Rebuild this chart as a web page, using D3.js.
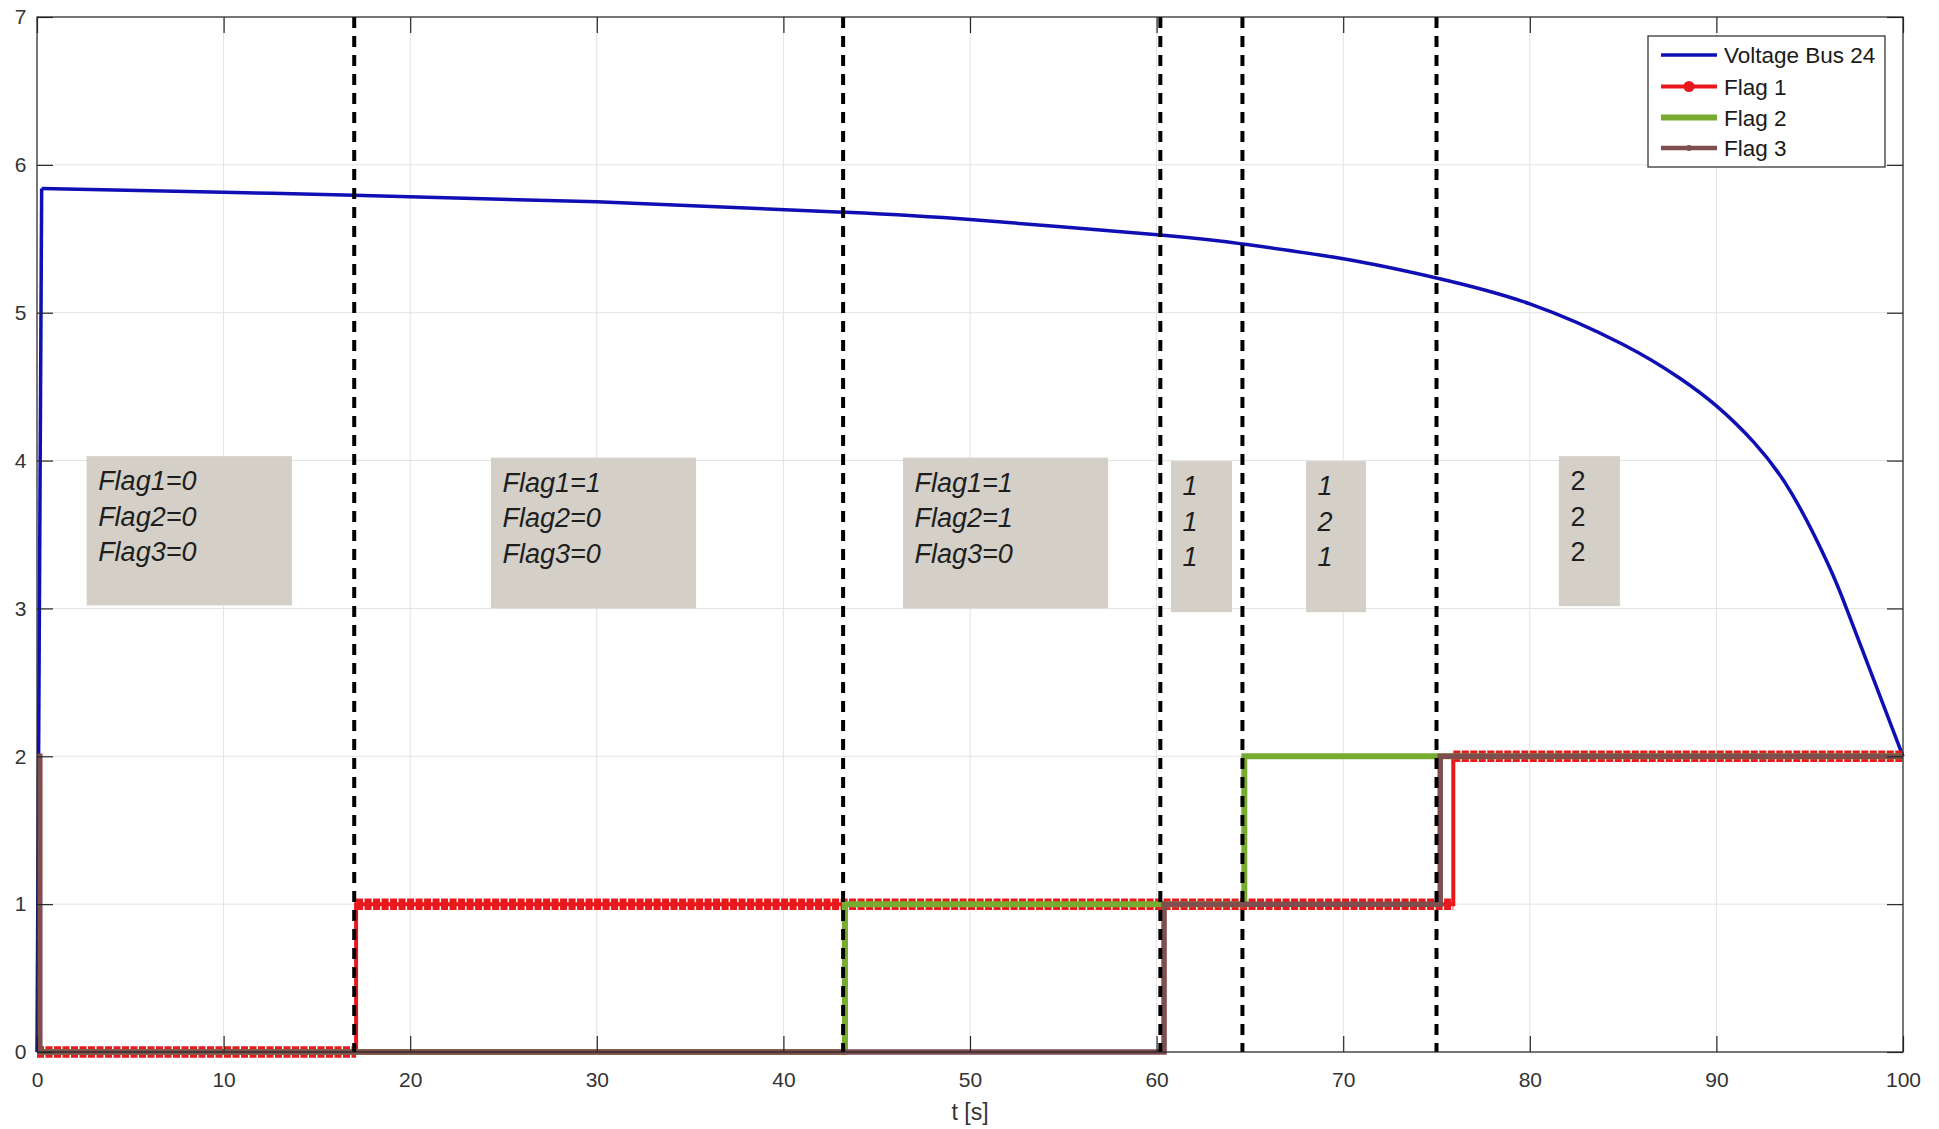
<!DOCTYPE html>
<html><head><meta charset="utf-8">
<script src="https://cdn.jsdelivr.net/npm/d3@7"></script>
<style>
body{margin:0;background:#fff}
svg{display:block}
text{font-family:"Liberation Sans",Arial,Helvetica,sans-serif}
</style>
</head><body>
<svg id="c" width="1939" height="1129"></svg>
<script>
// ---------- data ----------
const voltageT = [0, 0.25, 10, 17, 30, 43.2, 50, 60.2, 64.6, 70, 75, 80, 85, 88, 90, 92, 94, 96, 97, 98, 100];
const voltageV = [0, 5.84, 5.815, 5.795, 5.75, 5.68, 5.63, 5.525, 5.465, 5.365, 5.235, 5.06, 4.785, 4.56, 4.37, 4.125, 3.785, 3.295, 2.99, 2.66, 2.0];

const flag1T = [0, 17.1, 75.9, 100];
const flag1V = [0, 1, 2, 2];
const flag2T = [0, 43.3, 64.7, 100];
const flag2V = [0, 1, 2, 2];
const flag3T = [0, 0.15, 60.4, 75.2, 100];
const flag3V = [2, 0, 1, 2, 2];

const switchTimes = [17.0, 43.2, 60.2, 64.6, 75.0];

const xTicks = [0, 10, 20, 30, 40, 50, 60, 70, 80, 90, 100];
const yTicks = [0, 1, 2, 3, 4, 5, 6, 7];
const xLabel = "t [s]";

const seriesNames = ["Voltage Bus 24", "Flag 1", "Flag 2", "Flag 3"];

// state annotation boxes (anchored in data units)
const boxT0 = [2.66, 24.33, 46.41, 60.77, 68.01, 81.56];
const boxT1 = [13.66, 35.32, 57.40, 64.04, 71.22, 84.83];
const boxVTop = [4.03, 4.02, 4.02, 3.996, 3.996, 4.03];
const boxVBot = [3.02, 3.00, 3.00, 2.975, 2.975, 3.016];
const boxLines = [
  ["Flag1=0", "Flag2=0", "Flag3=0"],
  ["Flag1=1", "Flag2=0", "Flag3=0"],
  ["Flag1=1", "Flag2=1", "Flag3=0"],
  ["1", "1", "1"],
  ["1", "2", "1"],
  ["2", "2", "2"]
];
const boxItalic = [true, true, true, true, true, false];

// ---------- layout ----------
const L = 37, T = 17, R = 1903, B = 1052;
const svg = d3.select("#c");
const x = d3.scaleLinear().domain([0, 100]).range([L, R]);
const y = d3.scaleLinear().domain([0, 7]).range([B, T]);

const cBlue = "#0f0fb4", cRed = "#e8191c", cGreen = "#77ac30", cBrown = "#7f4f50";
const axisCol = "#262626";

// grid
const grid = svg.append("g");
grid.selectAll(".gx").data(xTicks).join("line")
  .attr("x1", d => x(d)).attr("x2", d => x(d)).attr("y1", T).attr("y2", B)
  .attr("stroke", "#e2e2e2").attr("stroke-width", 1);
grid.selectAll(".gy").data(yTicks).join("line")
  .attr("x1", L).attr("x2", R).attr("y1", d => y(d)).attr("y2", d => y(d))
  .attr("stroke", "#e2e2e2").attr("stroke-width", 1);

// annotation boxes
const boxes = svg.append("g");
boxLines.forEach((lines, i) => {
  const bx = x(boxT0[i]), by = y(boxVTop[i]);
  boxes.append("rect")
    .attr("x", bx).attr("y", by)
    .attr("width", x(boxT1[i]) - bx).attr("height", y(boxVBot[i]) - by)
    .attr("fill", "#d4d0c8");
  lines.forEach((s, j) => {
    boxes.append("text")
      .attr("x", bx + 11.5).attr("y", by + 34 + j * 35.5)
      .attr("font-size", 27)
      .attr("font-style", boxItalic[i] ? "italic" : "normal")
      .attr("fill", "#1e1e1e")
      .text(s);
  });
});

// voltage curve: initial rise (linear) + smooth decay (natural spline)
const vData = voltageT.map((t, i) => [t, voltageV[i]]);
svg.append("path")
  .datum(vData.slice(0, 2))
  .attr("d", d3.line().x(d => x(d[0])).y(d => y(d[1])))
  .attr("fill", "none").attr("stroke", cBlue).attr("stroke-width", 3.5);
svg.append("path")
  .datum(vData.slice(1))
  .attr("d", d3.line().x(d => x(d[0])).y(d => y(d[1])).curve(d3.curveNatural))
  .attr("fill", "none").attr("stroke", cBlue).attr("stroke-width", 3.5);

const stepLine = d3.line().x(d => x(d[0])).y(d => y(d[1])).curve(d3.curveStepAfter);
function runs(ts, vs) {
  const r = [];
  for (let i = 0; i < ts.length - 1; i++) r.push([[ts[i], vs[i]], [ts[i + 1], vs[i]]]);
  return r;
}

// Flag 1 (red with dense markers)
const f1 = flag1T.map((t, i) => [t, flag1V[i]]);
svg.append("g").selectAll("path").data(runs(flag1T, flag1V)).join("path")
  .attr("d", d => d3.line().x(p => x(p[0])).y(p => y(p[1]))(d))
  .attr("stroke", cRed).attr("stroke-width", 11.5).attr("stroke-dasharray", "7 1.5")
  .attr("fill", "none");
svg.append("path").datum(f1).attr("d", stepLine)
  .attr("fill", "none").attr("stroke", cRed).attr("stroke-width", 4);

// Flag 2 (green)
const f2 = flag2T.map((t, i) => [t, flag2V[i]]);
svg.append("path").datum(f2).attr("d", stepLine)
  .attr("fill", "none").attr("stroke", cGreen).attr("stroke-width", 6);

// Flag 3 (brown)
const f3 = flag3T.map((t, i) => [t, flag3V[i]]);
svg.append("path").datum(f3).attr("d", stepLine)
  .attr("fill", "none").attr("stroke", cBrown).attr("stroke-width", 5.5);

// switching instants
svg.append("g").selectAll("line").data(switchTimes).join("line")
  .attr("x1", d => x(d)).attr("x2", d => x(d)).attr("y1", T).attr("y2", B)
  .attr("stroke", "#000").attr("stroke-width", 4).attr("stroke-dasharray", "11 8");

// axes
const ax = svg.append("g").attr("color", axisCol);
ax.append("g").attr("transform", `translate(0,${B})`)
  .call(d3.axisBottom(x).tickValues(xTicks).tickSize(-16).tickPadding(20).tickFormat(d3.format("d")));
ax.append("g").attr("transform", `translate(${L},0)`)
  .call(d3.axisLeft(y).tickValues(yTicks).tickSize(-16).tickPadding(10.5).tickFormat(d3.format("d")));
ax.append("g").attr("transform", `translate(0,${T})`)
  .call(d3.axisTop(x).tickValues(xTicks).tickSize(-16).tickFormat(""));
ax.append("g").attr("transform", `translate(${R},0)`)
  .call(d3.axisRight(y).tickValues(yTicks).tickSize(-16).tickFormat(""));
ax.selectAll(".domain").remove();
ax.selectAll("line").attr("stroke-width", 1.2);
ax.selectAll("text").attr("font-size", 21).attr("fill", "#333")
  .attr("font-family", '"Liberation Sans",Arial,sans-serif');
svg.append("rect").attr("x", L).attr("y", T).attr("width", R - L).attr("height", B - T)
  .attr("fill", "none").attr("stroke", axisCol).attr("stroke-width", 1.2);

svg.append("text").attr("x", (L + R) / 2).attr("y", 1120).attr("text-anchor", "middle")
  .attr("font-size", 23).attr("fill", "#333").text(xLabel);

// legend
const lg = svg.append("g");
lg.append("rect").attr("x", 1648).attr("y", 36).attr("width", 237).attr("height", 131)
  .attr("fill", "#fff").attr("stroke", axisCol).attr("stroke-width", 1.2);
const lgCols = [cBlue, cRed, cGreen, cBrown];
const lgW = [3.5, 4, 6, 4.5];
const lgMark = [0, 5.5, 0, 3];
const lgY = [55, 86.5, 117.5, 148];
seriesNames.forEach((n, i) => {
  lg.append("line").attr("x1", 1661).attr("x2", 1717).attr("y1", lgY[i]).attr("y2", lgY[i])
    .attr("stroke", lgCols[i]).attr("stroke-width", lgW[i]);
  if (lgMark[i]) lg.append("circle").attr("cx", 1689).attr("cy", lgY[i]).attr("r", lgMark[i]).attr("fill", lgCols[i]);
  lg.append("text").attr("x", 1724).attr("y", lgY[i] + 8).attr("font-size", 22.5).attr("fill", "#1a1a1a").text(n);
});
</script>
</body></html>
